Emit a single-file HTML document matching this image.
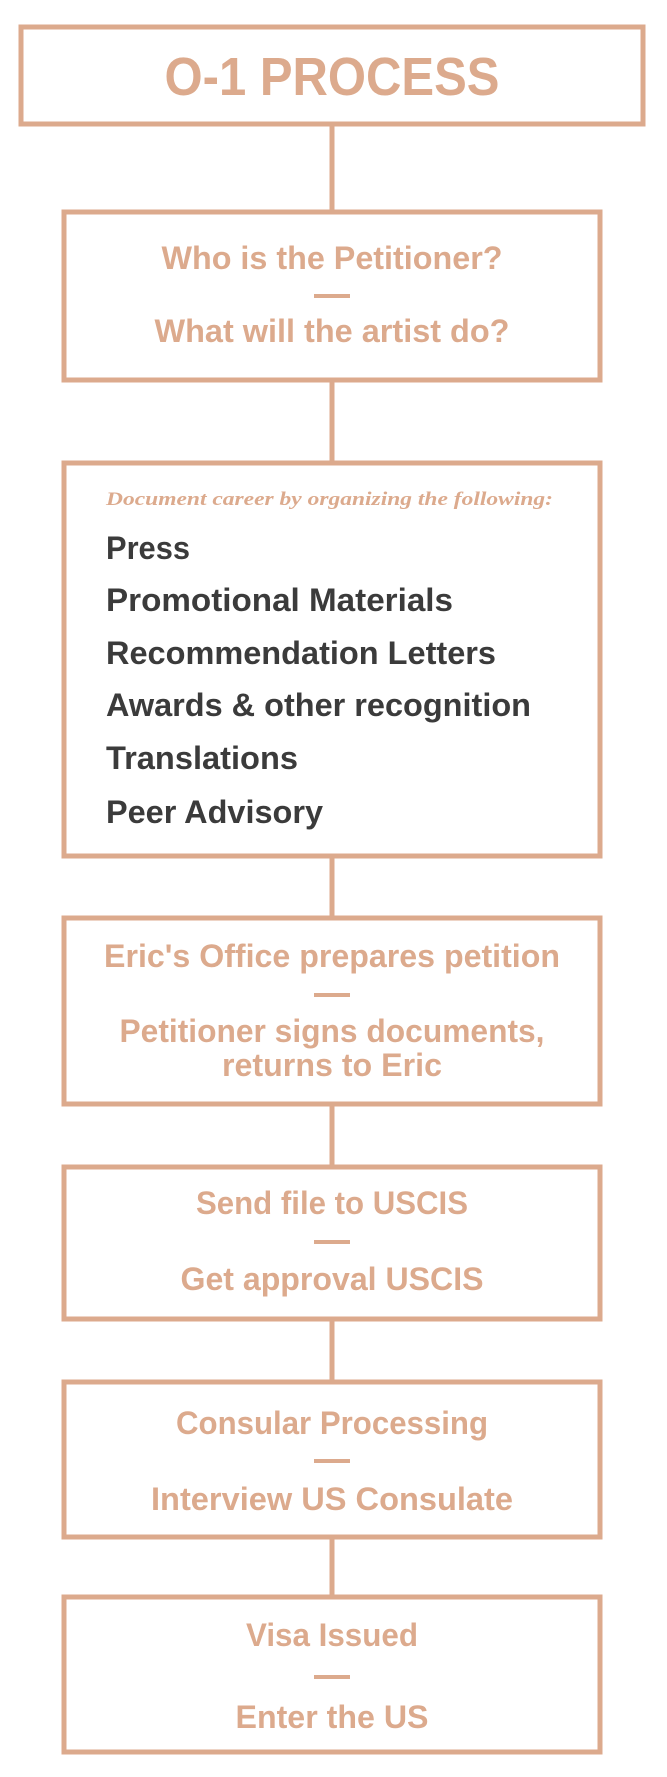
<!DOCTYPE html>
<html><head><meta charset="utf-8"><style>
html,body{margin:0;padding:0;background:#fff;width:667px;height:1777px;overflow:hidden}
svg{display:block}
text{font-family:"Liberation Sans",sans-serif;font-weight:bold}
</style></head><body>
<svg width="667" height="1777" viewBox="0 0 667 1777">
<g fill="none" stroke="#dcaa8d" stroke-width="5">
<rect x="21" y="27" width="622" height="97"/>
<rect x="64" y="212" width="536" height="168"/>
<rect x="64" y="463" width="536" height="393"/>
<rect x="64" y="918" width="536" height="186"/>
<rect x="64" y="1167" width="536" height="152"/>
<rect x="64" y="1382" width="536" height="155"/>
<rect x="64" y="1597" width="536" height="155"/>
<g>
<line x1="332" y1="126" x2="332" y2="210"/>
<line x1="332" y1="382" x2="332" y2="461"/>
<line x1="332" y1="858" x2="332" y2="916"/>
<line x1="332" y1="1106" x2="332" y2="1165"/>
<line x1="332" y1="1321" x2="332" y2="1380"/>
<line x1="332" y1="1539" x2="332" y2="1595"/>
</g>
</g>
<g fill="#dcaa8d">
<rect x="314" y="294" width="36" height="4"/>
<rect x="314" y="993" width="36" height="4"/>
<rect x="314" y="1240" width="36" height="4"/>
<rect x="314" y="1459" width="36" height="4"/>
<rect x="314" y="1675" width="36" height="4"/>
</g>
<g fill="#dcaa8d" text-anchor="middle" font-size="32">
<text x="332" y="95" font-size="54" textLength="335" lengthAdjust="spacingAndGlyphs">O-1 PROCESS</text>
<text x="332" y="269" textLength="341" lengthAdjust="spacingAndGlyphs">Who is the Petitioner?</text>
<text x="332" y="342" textLength="355" lengthAdjust="spacingAndGlyphs">What will the artist do?</text>
<text x="332" y="967" textLength="456" lengthAdjust="spacingAndGlyphs">Eric's Office prepares petition</text>
<text x="332" y="1042" textLength="425" lengthAdjust="spacingAndGlyphs">Petitioner signs documents,</text>
<text x="332" y="1076" textLength="220" lengthAdjust="spacingAndGlyphs">returns to Eric</text>
<text x="332" y="1214" textLength="272" lengthAdjust="spacingAndGlyphs">Send file to USCIS</text>
<text x="332" y="1290" textLength="303" lengthAdjust="spacingAndGlyphs">Get approval USCIS</text>
<text x="332" y="1434" textLength="312" lengthAdjust="spacingAndGlyphs">Consular Processing</text>
<text x="332" y="1510" textLength="362" lengthAdjust="spacingAndGlyphs">Interview US Consulate</text>
<text x="332" y="1646" textLength="172" lengthAdjust="spacingAndGlyphs">Visa Issued</text>
<text x="332" y="1728" textLength="193" lengthAdjust="spacingAndGlyphs">Enter the US</text>
</g>
<text x="106" y="505" fill="#dcaa8d" font-size="19" font-style="italic" font-weight="normal" style="font-family:'Liberation Serif',serif" textLength="447" lengthAdjust="spacingAndGlyphs">Document career by organizing the following:</text>
<g fill="#3b3b3b" font-size="32">
<text x="106" y="559" textLength="84" lengthAdjust="spacingAndGlyphs">Press</text>
<text x="106" y="611" textLength="347" lengthAdjust="spacingAndGlyphs">Promotional Materials</text>
<text x="106" y="664" textLength="390" lengthAdjust="spacingAndGlyphs">Recommendation Letters</text>
<text x="106" y="716" textLength="425" lengthAdjust="spacingAndGlyphs">Awards &amp; other recognition</text>
<text x="106" y="769" textLength="192" lengthAdjust="spacingAndGlyphs">Translations</text>
<text x="106" y="823" textLength="217" lengthAdjust="spacingAndGlyphs">Peer Advisory</text>
</g>
</svg>
</body></html>
